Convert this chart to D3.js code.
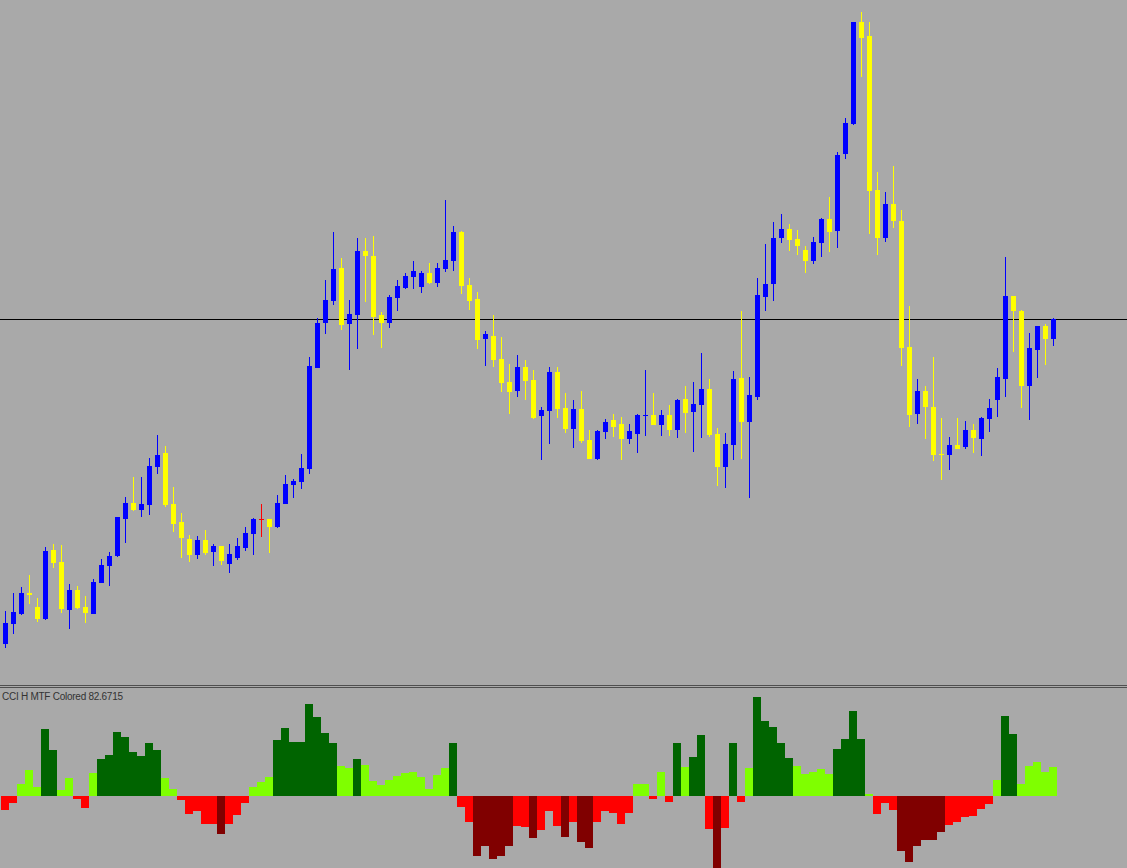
<!DOCTYPE html>
<html>
<head>
<meta charset="utf-8">
<script src="https://cdn.jsdelivr.net/npm/d3@7/dist/d3.min.js"></script>
<style>
html,body{margin:0;padding:0;background:#a9a9a9;overflow:hidden;}
svg{display:block;}
</style>
</head>
<body>
<svg id="chart" width="1127" height="868"></svg>
<script>
// ---- DATA ----
const opens = [1.2856,1.2876,1.2886,1.2907,1.2893,1.2881,1.2950,1.2938,1.2890,1.2910,1.2893,1.2886,1.2917,1.2934,1.2944,1.2981,1.2997,1.2990,1.2995,1.3033,1.3047,1.2996,1.2978,1.2961,1.2945,1.2960,1.2948,1.2954,1.2936,1.2942,1.2952,1.2966,1.2981,1.2981,1.2973,1.2996,1.3015,1.3018,1.3031,1.3132,1.3177,1.3199,1.3232,1.3176,1.3185,1.3249,1.3244,1.3185,1.3177,1.3202,1.3212,1.3223,1.3213,1.3227,1.3217,1.3231,1.3239,1.3268,1.3215,1.3201,1.3161,1.3164,1.3141,1.3118,1.3109,1.3133,1.3120,1.3084,1.3089,1.3128,1.3092,1.3071,1.3091,1.3060,1.3041,1.3068,1.3080,1.3076,1.3061,1.3066,1.3084,1.3085,1.3075,1.3085,1.3070,1.3101,1.3088,1.3095,1.3111,1.3066,1.3033,1.3055,1.3122,1.3078,1.3103,1.3203,1.3216,1.3262,1.3271,1.3261,1.3250,1.3239,1.3257,1.3281,1.3269,1.3346,1.3376,1.3478,1.3464,1.3310,1.3262,1.3296,1.3279,1.3153,1.3086,1.3109,1.3093,1.3046,1.3045,1.3055,1.3053,1.3070,1.3061,1.3081,1.3100,1.3121,1.3204,1.3189,1.3114,1.3150,1.3174,1.3161];
const highs = [1.2889,1.2907,1.2913,1.2925,1.2902,1.2953,1.2956,1.2955,1.2916,1.2914,1.2904,1.2921,1.2941,1.2948,1.2983,1.3003,1.3023,1.3023,1.3042,1.3065,1.3054,1.3013,1.2987,1.2965,1.2964,1.2970,1.2956,1.2954,1.2956,1.2962,1.2973,1.2982,1.2996,1.2981,1.3005,1.3025,1.3021,1.3046,1.3143,1.3182,1.3220,1.3268,1.3242,1.3200,1.3262,1.3262,1.3264,1.3188,1.3205,1.3220,1.3227,1.3239,1.3229,1.3237,1.3237,1.3300,1.3274,1.3269,1.3222,1.3208,1.3169,1.3185,1.3163,1.3136,1.3145,1.3140,1.3130,1.3093,1.3133,1.3133,1.3107,1.3100,1.3109,1.3070,1.3070,1.3081,1.3086,1.3083,1.3076,1.3086,1.3130,1.3107,1.3090,1.3095,1.3101,1.3114,1.3118,1.3147,1.3121,1.3072,1.3067,1.3129,1.3189,1.3123,1.3222,1.3256,1.3278,1.3286,1.3276,1.3270,1.3254,1.3263,1.3282,1.3303,1.3348,1.3382,1.3478,1.3488,1.3478,1.3328,1.3308,1.3334,1.3290,1.3194,1.3121,1.3114,1.3143,1.3082,1.3063,1.3082,1.3079,1.3076,1.3083,1.3101,1.3132,1.3243,1.3204,1.3190,1.3167,1.3174,1.3176,1.3182];
const lows = [1.2852,1.2866,1.2885,1.2896,1.2878,1.2880,1.2932,1.2887,1.2871,1.2891,1.2877,1.2886,1.2917,1.2914,1.2943,1.2957,1.2989,1.2983,1.2985,1.3026,1.2993,1.2968,1.2942,1.2938,1.2941,1.2945,1.2934,1.2935,1.2927,1.2940,1.2949,1.2945,1.2963,1.2947,1.2972,1.2996,1.3002,1.3011,1.3026,1.3132,1.3166,1.3195,1.3170,1.3130,1.3151,1.3198,1.3165,1.3152,1.3172,1.3189,1.3211,1.3211,1.3207,1.3216,1.3213,1.3228,1.3229,1.3206,1.3190,1.3151,1.3134,1.3133,1.3108,1.3086,1.3103,1.3100,1.3081,1.3040,1.3056,1.3082,1.3067,1.3052,1.3057,1.3041,1.3040,1.3061,1.3063,1.3040,1.3056,1.3047,1.3064,1.3075,1.3064,1.3064,1.3062,1.3067,1.3048,1.3062,1.3063,1.3014,1.3012,1.3040,1.3041,1.3002,1.3100,1.3189,1.3199,1.3257,1.3249,1.3245,1.3227,1.3236,1.3243,1.3248,1.3252,1.3341,1.3375,1.3423,1.3266,1.3245,1.3258,1.3272,1.3134,1.3073,1.3076,1.3061,1.3039,1.3020,1.3030,1.3051,1.3051,1.3047,1.3044,1.3068,1.3083,1.3103,1.3148,1.3092,1.3080,1.3122,1.3135,1.3154];
const closes = [1.2877,1.2888,1.2907,1.2905,1.2881,1.2949,1.2937,1.2891,1.2910,1.2892,1.2887,1.2918,1.2935,1.2944,1.2983,1.2997,1.2990,1.2996,1.3034,1.3045,1.2995,1.2976,1.2962,1.2945,1.2960,1.2947,1.2954,1.2939,1.2946,1.2954,1.2967,1.2981,1.2981,1.2973,1.2997,1.3016,1.3019,1.3032,1.3134,1.3177,1.3200,1.3231,1.3175,1.3186,1.3249,1.3244,1.3183,1.3177,1.3203,1.3214,1.3224,1.3229,1.3227,1.3217,1.3232,1.3240,1.3268,1.3214,1.3199,1.3160,1.3166,1.3140,1.3117,1.3108,1.3133,1.3119,1.3082,1.3090,1.3128,1.3091,1.3071,1.3091,1.3059,1.3041,1.3069,1.3078,1.3073,1.3061,1.3069,1.3085,1.3085,1.3075,1.3085,1.3070,1.3100,1.3087,1.3096,1.3111,1.3065,1.3033,1.3056,1.3121,1.3078,1.3105,1.3205,1.3216,1.3262,1.3271,1.3260,1.3254,1.3239,1.3258,1.3281,1.3268,1.3345,1.3377,1.3478,1.3462,1.3309,1.3262,1.3296,1.3279,1.3152,1.3085,1.3109,1.3093,1.3045,1.3045,1.3055,1.3051,1.3070,1.3062,1.3082,1.3092,1.3123,1.3204,1.3189,1.3114,1.3152,1.3174,1.3161,1.3181];
// CCI histogram values, one per candle
const cciValues = [-39,-19,34,74,26,191,131,17,51,-8,-33,66,105,117,182,168,125,114,151,131,51,20,-11,-50,-42,-79,-79,-107,-79,-53,-19,26,40,54,160,194,154,154,262,225,180,151,86,80,105,88,43,31,46,57,66,68,54,20,60,80,151,-31,-74,-171,-143,-180,-171,-143,-86,-88,-120,-97,-43,-86,-117,-74,-131,-148,-74,-43,-48,-80,-48,34,34,-9,68,-17,151,83,111,174,-94,-217,-91,151,-17,80,282,214,197,151,108,86,63,68,77,63,134,162,242,162,6,-51,-20,-40,-157,-188,-143,-125,-125,-103,-83,-74,-60,-57,-37,-23,46,228,177,34,86,97,68,82.6715];
const indicatorName = "CCI H MTF Colored";
const cciLevels = [100, -100];

// fix last open of 80 / 117 tiny bodies already encoded; exact doji drawn in line colour
// ---- DRAWING ----
const W = 1127, H = 868;
const svg = d3.select("#chart");
const n = closes.length;

const x = d3.scaleLinear().domain([0, n - 1]).range([5.5, 5.5 + 8 * (n - 1)]);
const y = d3.scaleLinear().domain([1.2820, 1.3500]).range([680, 0]);
const yc = d3.scaleLinear().domain([-205.2, 307.8]).range([868, 688]);

svg.append("rect").attr("width", W).attr("height", H).attr("fill", "#a9a9a9");

const defs = svg.append("defs");
defs.append("clipPath").attr("id", "mainClip").append("rect").attr("x", 0).attr("y", 0).attr("width", W).attr("height", 685);
defs.append("clipPath").attr("id", "subClip").append("rect").attr("x", 0).attr("y", 688).attr("width", W).attr("height", 180);

const main = svg.append("g").attr("clip-path", "url(#mainClip)");
const candles = d3.range(n).map(i => ({i, o: opens[i], h: highs[i], l: lows[i], c: closes[i]}));
const col = d => d.c > d.o ? "#0000ff" : (d.c < d.o ? "#ffff00" : "#ff0000");
const R = v => Math.round(v);

// bid line (last close)
main.append("rect")
  .attr("x", 0).attr("width", W)
  .attr("y", R(y(closes[n - 1]))).attr("height", 1)
  .attr("fill", "#000000");

const g = main.selectAll("g.candle").data(candles).join("g").attr("class", "candle");
g.append("rect")
  .attr("x", d => x(d.i) - 0.5).attr("width", 1)
  .attr("y", d => R(y(d.h)))
  .attr("height", d => Math.max(1, R(y(d.l)) - R(y(d.h))))
  .attr("fill", col);
g.append("rect")
  .attr("x", d => x(d.i) - 2.5).attr("width", 5)
  .attr("y", d => R(y(Math.max(d.o, d.c))))
  .attr("height", d => Math.max(1, R(y(Math.min(d.o, d.c))) - R(y(Math.max(d.o, d.c)))))
  .attr("fill", col);

// separator
svg.append("rect").attr("x", 0).attr("y", 685).attr("width", W).attr("height", 1).attr("fill", "#4f4f4f");
svg.append("rect").attr("x", 0).attr("y", 687).attr("width", W).attr("height", 1).attr("fill", "#4f4f4f");

// histogram
const sub = svg.append("g").attr("clip-path", "url(#subClip)");
const hcol = v => v > cciLevels[0] ? "#006400" : (v > 0 ? "#7fff00" : (v < cciLevels[1] ? "#800000" : "#ff0000"));
const y0 = R(yc(0));
sub.selectAll("rect.bar").data(cciValues).join("rect").attr("class", "bar")
  .attr("x", (v, i) => x(i) - 4.5).attr("width", 8)
  .attr("y", v => Math.min(y0, R(yc(v))))
  .attr("height", v => Math.max(1, Math.abs(R(yc(v)) - y0)))
  .attr("fill", hcol);

svg.append("text")
  .attr("x", 2).attr("y", 700)
  .attr("font-family", "Liberation Sans, Arial, sans-serif")
  .attr("font-size", 10)
  .attr("fill", "#333333")
  .attr("textLength", 121).attr("lengthAdjust", "spacing")
  .text(indicatorName + " " + cciValues[n - 1].toFixed(4));
</script>
</body>
</html>
